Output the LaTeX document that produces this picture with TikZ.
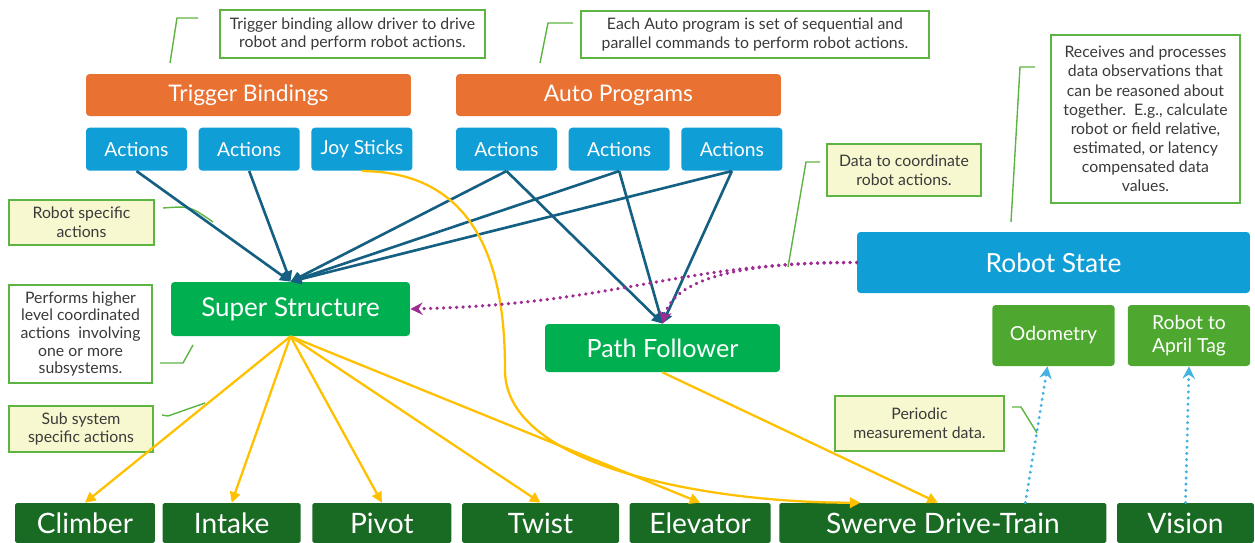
\documentclass[tikz,border=0pt]{standalone}
\usepackage{fontspec}
\setsansfont{Lato}
\usetikzlibrary{arrows.meta, positioning}
\tikzset{every node/.style={font=\sffamily}}
\definecolor{barorange}{HTML}{E97132}
\definecolor{chipblue}{HTML}{0F9ED5}
\definecolor{ssgreen}{HTML}{00B050}
\definecolor{leafgreen}{HTML}{4EA72E}
\definecolor{darkgreen}{HTML}{196B24}
\definecolor{linkblue}{HTML}{156082}
\definecolor{gold}{HTML}{FFC000}
\definecolor{plum}{HTML}{A02B93}
\definecolor{skyblue}{HTML}{44B3E1}
\definecolor{notegreen}{HTML}{5DB443}
\definecolor{noteyellow}{HTML}{F7F8CF}
\definecolor{notetext}{HTML}{3A3A3A}

\begin{document}
\begin{tikzpicture}[
  x=0.02cm, y=-0.02cm,
  node distance=0.22cm,
  box/.style={rounded corners=2pt, inner sep=2pt, text=white, align=center},
  barnode/.style={box, fill=barorange, minimum width=6.5cm, minimum height=0.84cm, font=\sffamily\fontsize{13}{15}\selectfont},
  actnode/.style={box, fill=chipblue, minimum width=2.02cm, minimum height=0.86cm, font=\sffamily\fontsize{11}{13}\selectfont},
  corenode/.style={box, fill=ssgreen, font=\sffamily\fontsize{14.8}{17}\selectfont},
  sensenode/.style={box, fill=leafgreen, minimum width=2.45cm, minimum height=1.22cm, font=\sffamily\fontsize{11}{13}\selectfont},
  subnode/.style={box, rounded corners=1pt, fill=darkgreen, minimum height=0.8cm, font=\sffamily\fontsize{16}{18}\selectfont},
  note/.style={draw=notegreen, line width=1pt, fill=white, text=notetext, align=center, inner sep=1pt, font=\sffamily\fontsize{9}{10.6}\selectfont},
  yellownote/.style={note, fill=noteyellow},
  leader/.style={draw=notegreen, line width=0.8pt},
  linkarrow/.style={draw=linkblue, line width=1.5pt, -{Triangle[length=6pt,width=6pt]}},
  goldarrow/.style={draw=gold, line width=1.3pt, -{Triangle[length=6pt,width=6pt]}},
  plumarrow/.style={draw=plum, line width=2pt, dash pattern=on 0.1pt off 3.6pt, line cap=round, -{Stealth[length=7pt,width=7pt]}},
  skyarrow/.style={draw=skyblue, line width=1.8pt, dash pattern=on 0.1pt off 3.4pt, line cap=round, -{Stealth[length=7pt,width=7pt]}}
]
  \useasboundingbox (0,0) rectangle (1255,542);

  \node[barnode] (trig) at (248.5,95) {Trigger Bindings};
  \node[barnode] (auto) at (618.5,95) {Auto Programs};
  \node[actnode, below right=0.22cm and 0cm of trig.south west] (act1) {Actions};
  \node[actnode, right=of act1] (act2) {Actions};
  \node[actnode, right=of act2] (joy) {Joy Sticks};
  \node[actnode, below right=0.22cm and 0cm of auto.south west] (aact1) {Actions};
  \node[actnode, right=of aact1] (aact2) {Actions};
  \node[actnode, right=of aact2] (aact3) {Actions};

  \node[box, fill=chipblue, minimum width=7.86cm, minimum height=1.22cm, font=\sffamily\fontsize{15}{17}\selectfont] (rs) at (1053.5,262.5) {Robot State};
  \node[corenode, minimum width=4.78cm, minimum height=1.08cm] (ss) at (290.5,309) {Super Structure};
  \node[corenode, minimum width=4.7cm, minimum height=0.96cm, font=\sffamily\fontsize{14.3}{16}\selectfont] (pf) at (662.5,348) {Path Follower};
  \node[sensenode] (odo) at (1053.5,335.5) {Odometry};
  \node[sensenode] (tag) at (1189,335.5) {Robot to\\April Tag};

  \node[subnode, minimum width=2.8cm] (climb) at (85,523) {Climber};
  \node[subnode, minimum width=2.76cm, right=0.14cm of climb] (intake) {Intake};
  \node[subnode, minimum width=2.78cm, right=0.22cm of intake] (pivot) {Pivot};
  \node[subnode, minimum width=3.14cm, right=0.2cm of pivot] (twist) {Twist};
  \node[subnode, minimum width=2.82cm, right=0.2cm of twist] (elev) {Elevator};
  \node[subnode, minimum width=6.54cm, right=0.16cm of elev] (sw) {Swerve Drive-Train};
  \node[subnode, minimum width=2.74cm, right=0.2cm of sw] (vis) {Vision};

  \node[note, minimum width=5.3cm, minimum height=0.96cm] (tipbind) at (352.5,34) {Trigger binding allow driver to drive\\robot and perform robot actions.};
  \node[note, minimum width=6.96cm, minimum height=0.94cm] (tipauto) at (755,34.5) {Each Auto program is set of sequential and\\parallel commands to perform robot actions.};
  \node[note, minimum width=3.78cm, minimum height=3.36cm, font=\sffamily\fontsize{9}{10.9}\selectfont] (tipstate) at (1145.5,119) {Receives and processes\\data observations that\\can be reasoned about\\together.\ \ E.g., calculate\\robot or field relative,\\estimated, or latency\\compensated data\\values.};
  \node[yellownote, minimum width=3.08cm, minimum height=1.04cm] (tipdata) at (904,170) {Data to coordinate\\robot actions.};
  \node[yellownote, minimum width=2.9cm, minimum height=0.9cm] (tiprobot) at (81.5,222.5) {Robot specific\\actions};
  \node[note, minimum width=2.86cm, minimum height=1.96cm, font=\sffamily\fontsize{9}{10}\selectfont] (tipsuper) at (80.5,334) {Performs higher\\level coordinated\\actions\ \ involving\\one or more\\subsystems.};
  \node[yellownote, minimum width=2.88cm, minimum height=0.92cm] (tipsub) at (81,429) {Sub system\\specific actions};
  \node[yellownote, minimum width=3.38cm, minimum height=1.1cm] (tipmeas) at (919.5,423.5) {Periodic\\measurement data.};

  \draw[leader] (198,18) -- (177,18) -- (170,63);
  \draw[leader] (573,23) -- (548,23) -- (540,63);
  \draw[leader] (1035,67) -- (1020,67) -- (1011,222);
  \draw[leader] (820,162) -- (806,162) -- (788,267);
  \draw[leader] (163,208) .. controls (190,206) .. (213,222);
  \draw[leader] (160,363) -- (183,363) -- (193,345);
  \draw[leader] (162,415) -- (168,416) -- (205,403);
  \draw[leader] (1012,407) -- (1021,407) -- (1037,433);

  \draw[linkarrow] (act1.south) -- (ss.north);
  \draw[linkarrow] (act2.south) -- (ss.north);
  \foreach \a in {aact1, aact2, aact3} {
    \draw[linkarrow] (\a.south) -- (ss.north);
    \draw[linkarrow] (\a.south) -- (pf.north);
  }

  \foreach \s in {climb, intake, pivot, twist, elev}
    \draw[goldarrow] (ss.south) -- (\s.north);
  \draw[goldarrow] (joy.south) .. controls (490,172) and (505,290) .. (505,370) .. controls (505,470) and (720,503) .. ([xshift=-1.65cm]sw.north);
  \draw[goldarrow] (pf.south) -- ([xshift=-0.1cm]sw.north);

  \draw[plumarrow] (rs.west) .. controls (680,262) and (620,304) .. (ss.east);
  \draw[plumarrow] (rs.west) .. controls (720,262) and (672,285) .. (pf.north);

  \draw[skyarrow] ([xshift=1.65cm]sw.north) -- ([xshift=-0.12cm]odo.south);
  \draw[skyarrow] (vis.north) -- (tag.south);
\end{tikzpicture}
\end{document}
